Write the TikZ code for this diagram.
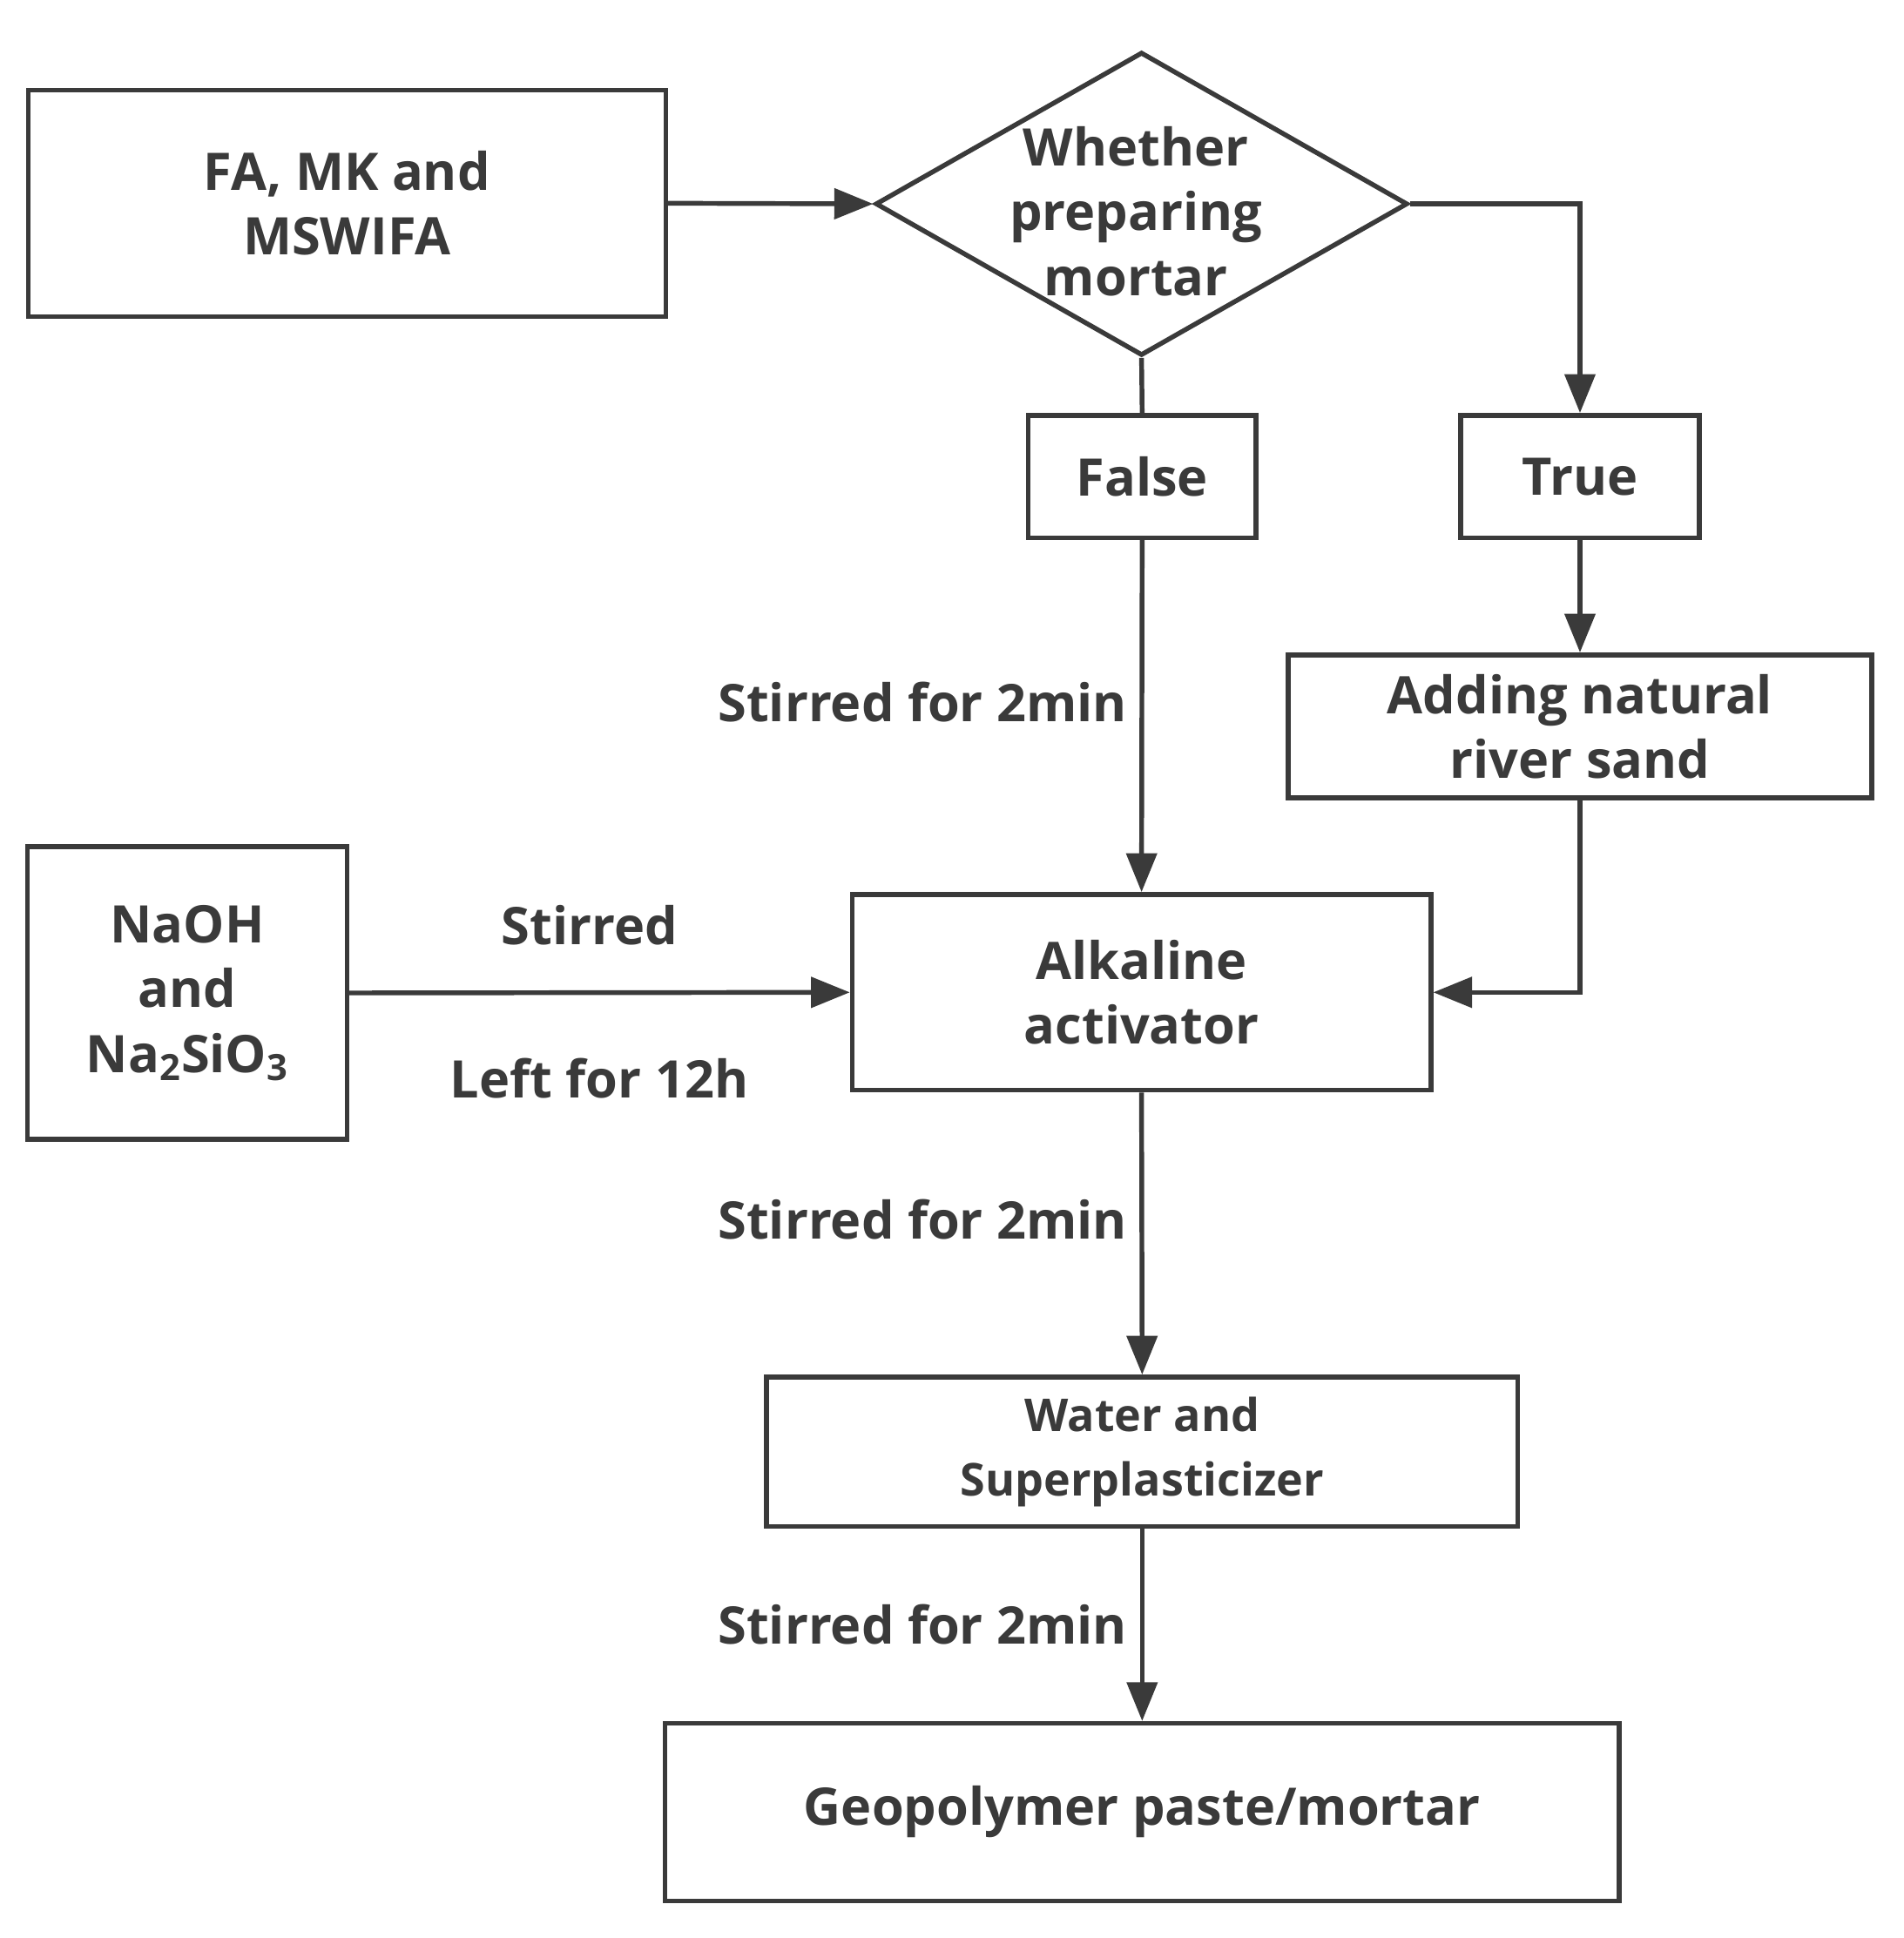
\documentclass[tikz,border=0pt]{standalone}
\usepackage{fontspec}
\setmainfont{Open Sans}
\usetikzlibrary{shapes.geometric,arrows.meta}
\definecolor{ink}{HTML}{3A3A3A}
\begin{document}
\begin{tikzpicture}[x=0.02cm,y=-0.02cm,
  box/.style={draw=ink,line width=2.2pt,inner sep=0pt,text=ink,font=\bfseries\fontsize{24}{30}\selectfont,align=center},
  lbl/.style={text=ink,font=\bfseries\fontsize{24}{30}\selectfont,inner sep=0pt},
  ln/.style={draw=ink,line width=2.2pt},
  ar/.style={ln,-{Triangle[length=18pt,width=14pt]}}]
\useasboundingbox (0,0) rectangle (1550,1578);
\node[box,minimum width=521*0.567pt,minimum height=185*0.567pt] (fa) at (282.5,165.5) {FA, MK and\\MSWIFA};
\node[box,diamond,shape aspect=1.75,minimum width=435*0.567pt,minimum height=248*0.567pt,inner sep=0pt] (dia) at (929.5,166) {};
\node[lbl,align=center,font=\bfseries\fontsize{24}{30}\selectfont] at (925,172) {Whether\\preparing\\mortar};
\node[box,minimum width=186*0.567pt,minimum height=100*0.567pt] (false) at (930,388) {False};
\node[box,minimum width=195*0.567pt,minimum height=100*0.567pt] (true) at (1286.5,388) {True};
\node[box,minimum width=477*0.567pt,minimum height=117*0.567pt] (sand) at (1286.5,591.5) {Adding natural\\river sand};
\node[box,minimum width=473*0.567pt,minimum height=160*0.567pt] (alk) at (929.5,808) {Alkaline\\activator};
\node[box,minimum width=261*0.567pt,minimum height=239*0.567pt] (na) at (152.5,808.5) {NaOH\\and\\Na\textsubscript{2}SiO\textsubscript{3}};
\node[box,minimum width=614*0.567pt,minimum height=122*0.567pt,font=\bfseries\fontsize{21}{30}\selectfont] (wat) at (930,1182) {Water and\\Superplasticizer};
\node[box,minimum width=780*0.567pt,minimum height=145*0.567pt] (geo) at (930,1475.5) {Geopolymer paste/mortar};
\draw[ar] (fa.east) -- (dia.west);
\draw[ar] (dia.east) -| (true.north);
\draw[ln] (dia.south) -- (false.north);
\draw[ar] (false.south) -- (alk.north);
\draw[ar] (true.south) -- (sand.north);
\draw[ar] (sand.south) |- (alk.east);
\draw[ar] (na.east) -- (alk.west);
\draw[ar] (alk.south) -- (wat.north);
\draw[ar] (wat.south) -- (geo.north);
\node[lbl,anchor=east] (l1) at (918,572) {Stirred for 2min};
\node[lbl,anchor=east] (l2) at (918,993) {Stirred for 2min};
\node[lbl,anchor=east] (l3) at (918,1323) {Stirred for 2min};
\node[lbl] (l4) at (480,753) {Stirred};
\node[lbl] (l5) at (488,878) {Left for 12h};
\end{tikzpicture}
\end{document}
